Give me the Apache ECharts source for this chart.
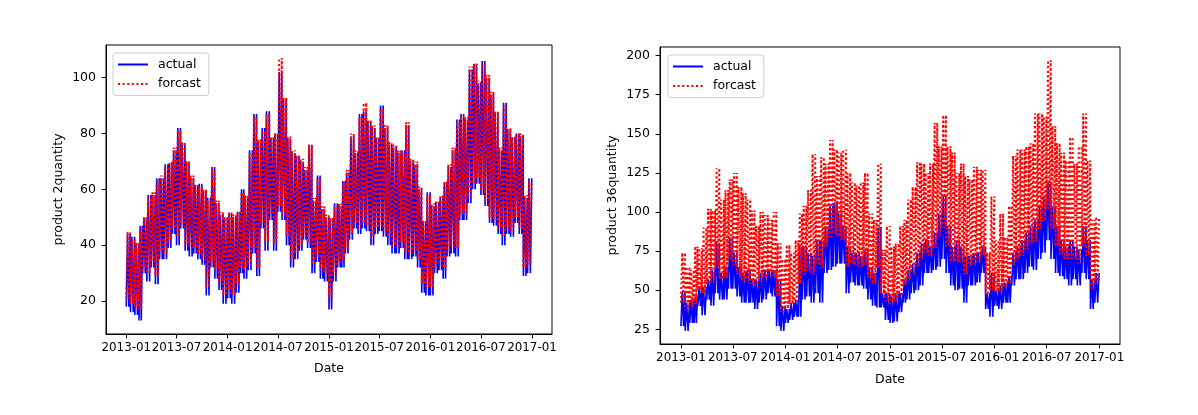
<!DOCTYPE html>
<html>
<head>
<meta charset="utf-8">
<script src="https://cdn.jsdelivr.net/npm/echarts@6/dist/echarts.min.js"></script>
<style>html,body{margin:0;padding:0;background:#fff}#c{width:1198px;height:415px}</style>
</head>
<body>
<div id="c"></div>
<script>
// Half-month envelopes (Jan 1-15, Jan 16-31, ... 2013-01 .. 2016-12)
const p2ActualHi = [44,43,40,47,50,58,58,64,64,69,69,74, 82,76,70,64,61,62,59,57,68,55,51,50,
  51,50,52,60,57,74,87,77,82,88,78,80, 102,92,78,73,72,70,67,76,56,65,53,50,
  49,55,54,63,66,79,73,87,88,84,82,78, 90,82,76,75,73,74,83,70,69,60,48,59,
  54,55,57,62,68,74,85,87,85,103,105,98, 106,100,94,87,74,91,81,78,80,79,57,64];
const p2ActualLo = [18,16,15,13,30,27,32,26,35,35,39,44, 40,46,38,36,37,35,33,22,32,28,24,19,
  21,19,23,30,28,31,37,29,46,38,49,38, 52,49,40,32,35,38,42,39,30,34,28,27,
  17,27,32,32,37,42,46,44,46,45,40,44, 45,43,40,37,37,39,35,35,36,32,23,22,
  22,30,31,28,36,37,36,49,49,55,60,62, 58,54,48,47,44,40,44,43,48,44,29,30];
const p2ForecastHi = [45,42,41,46,50,57,59,63,65,68,70,75, 81,77,70,65,62,61,60,56,67,56,52,50,
  52,51,52,59,58,73,86,78,81,87,79,80, 107,93,79,74,72,71,68,76,57,64,54,51,
  50,54,55,62,67,80,74,86,91,85,83,79, 89,83,77,76,74,73,84,71,70,61,49,58,
  55,56,58,63,69,75,84,86,86,104,105,99, 105,101,95,88,75,90,82,79,80,80,58,63];
const p2ForecastLo = [21,19,18,17,32,30,34,29,37,37,41,46, 43,48,40,39,39,37,35,25,34,31,27,22,
  24,22,26,32,31,33,39,32,48,41,51,41, 54,51,43,35,37,40,44,41,33,36,31,30,
  21,30,34,35,39,44,48,46,48,47,43,46, 47,45,43,40,39,41,38,37,38,35,26,25,
  25,32,34,31,38,40,39,51,51,57,62,64, 60,56,50,49,46,43,46,45,50,46,32,33];

const p36ActualHi = [49,42,44,46,52,52,57,63,80,61,65,84, 74,65,61,63,57,57,61,63,63,63,57,40,
  38,42,44,78,78,74,72,82,82,91,104,106, 99,91,78,74,74,72,76,65,61,90,48,48,
  46,48,48,57,63,67,74,80,82,78,87,99, 110,91,78,82,78,72,72,74,74,78,48,61,
  50,53,55,59,74,78,82,87,91,95,104,110, 119,104,91,82,78,82,78,76,91,82,57,61];
const p36ActualLo = [27,24,29,29,40,34,44,40,48,44,44,51, 51,46,42,42,42,38,42,44,48,46,27,24,
  29,31,33,33,44,46,42,48,42,61,63,65, 67,67,48,55,53,53,51,44,40,39,39,31,
  29,30,36,42,44,48,50,53,61,61,63,65, 70,61,53,50,51,42,53,53,55,61,38,33,
  40,38,42,42,53,57,57,61,65,63,70,74, 82,70,61,59,57,53,57,53,61,57,38,42];
const p36ForecastHi = [74,65,63,78,77,90,102,101,128,108,114,121, 125,116,112,108,101,91,100,98,95,100,80,70,
  79,74,82,99,104,114,137,123,135,131,146,140, 138,140,125,119,117,119,125,99,95,131,76,91,
  78,80,91,95,108,116,132,131,125,131,157,142, 162,142,138,125,131,123,121,129,127,127,74,110,
  82,99,84,104,136,140,140,142,144,163,163,161, 197,155,144,138,133,148,131,142,163,133,95,97];
const p36ForecastLo = [42,37,40,41,50,48,54,55,64,57,58,69, 66,60,56,57,54,52,56,58,60,59,46,36,
  38,41,43,54,60,62,60,67,64,78,84,86, 84,82,65,67,66,65,66,58,54,64,48,43,
  41,43,46,53,57,61,65,70,74,72,77,84, 90,78,68,68,67,60,66,67,68,72,47,50,
  49,49,52,54,66,70,72,76,80,81,89,94, 102,89,78,73,70,70,70,67,78,72,51,54];

const xTickLabels = ['2013-01','2013-07','2014-01','2014-07','2015-01','2015-07','2016-01','2016-07','2017-01'];
const p2YTicks = [20,40,60,80,100];
const p36YTicks = [25,50,75,100,125,150,175,200];

const DAY = 86400000;
function halfStart(k){ return Date.UTC(2013 + Math.floor(k/24), Math.floor((k%24)/2), (k%2) ? 16 : 1); }
// each half-month: weekly swings between its low and high
function build(lo, hi){
  const out = [];
  const N = 4;
  for (let k = 0; k < lo.length; k++){
    const s = halfStart(k), e = halfStart(k+1) - DAY;
    for (let j = 0; j < N; j++){
      out.push([s + j*(e - s)/(N-1), (j % 2) ? hi[k] : lo[k]]);
    }
  }
  return out;
}
const xTickVals = xTickLabels.map(l => Date.UTC(+l.slice(0,4), +l.slice(5,7)-1, 1));
const t0 = Date.UTC(2013,0,1), t1 = Date.UTC(2016,11,31), span = t1 - t0;
const xMin = t0 - 0.05*span, xMax = t1 + 0.05*span;

const FONT = 'DejaVu Sans';
const FS = 12.5;
function xAxis(gi, gap){
  return {type:'value', gridIndex:gi, min:xMin, max:xMax,
    axisLine:{show:true, lineStyle:{color:'#000', width:1}},
    axisTick:{show:true, length:4.4, inside:false, lineStyle:{color:'#000'}, customValues:xTickVals},
    axisLabel:{customValues:xTickVals, hideOverlap:false, showMinLabel:true, showMaxLabel:true, margin:8,
      color:'#000', fontFamily:FONT, fontSize:11.9,
      formatter: v => { const i = xTickVals.findIndex(t => Math.abs(t - v) < DAY); return i >= 0 ? xTickLabels[i] : ''; }},
    splitLine:{show:false},
    name:'Date', nameLocation:'middle', nameGap:gap,
    nameTextStyle:{color:'#000', fontFamily:FONT, fontSize:FS}};
}
function yAxis(gi, min, max, ticks, name){
  return {type:'value', gridIndex:gi, min:min, max:max,
    axisLine:{show:true, lineStyle:{color:'#000', width:1}},
    axisTick:{show:true, length:4.4, inside:false, lineStyle:{color:'#000'}, customValues:ticks},
    axisLabel:{customValues:ticks, showMinLabel:true, showMaxLabel:true, margin:10, color:'#000', fontFamily:FONT, fontSize:FS},
    splitLine:{show:false},
    name:name, nameLocation:'middle', nameGap:41, nameRotate:90,
    nameTextStyle:{color:'#000', fontFamily:FONT, fontSize:FS}};
}
function legend(left, top){
  return {left:left, top:top, orient:'vertical', data:['actual','forcast'],
    itemWidth:30, itemHeight:14, itemGap:6.5, padding:[5,8,5,4],
    itemStyle:{color:'rgba(0,0,0,0)', borderWidth:0, opacity:0},
    backgroundColor:'rgba(255,255,255,0.8)', borderColor:'#cccccc', borderWidth:1, borderRadius:3,
    textStyle:{color:'#000', fontFamily:FONT, fontSize:FS, padding:[0,0,0,5]}};
}
function series(name, gi, data, color, dotted, z){
  return {name:name, type:'line', xAxisIndex:gi, yAxisIndex:gi, data:data,
    symbol:'none', showSymbol:false, z:z, silent:true,
    itemStyle:{color:color},
    lineStyle: dotted ? {color:color, width:2, type:[2,2.6]} : {color:color, width:1.6}};
}

const chart = echarts.init(document.getElementById('c'), null, {renderer:'canvas'});
chart.setOption({
  animation:false,
  backgroundColor:'#fff',
  grid:[
    {left:106, top:45, width:446, height:289, show:true, borderColor:'#000', borderWidth:1, containLabel:false},
    {left:660, top:47, width:460, height:297, show:true, borderColor:'#000', borderWidth:1, containLabel:false}
  ],
  xAxis:[xAxis(0, 28), xAxis(1, 29)],
  yAxis:[yAxis(0, 8.2, 111.7, p2YTicks, 'product 2quantity'), yAxis(1, 15.6, 205.5, p36YTicks, 'product 36quantity')],
  legend:[legend(113, 53), legend(668, 55)],
  series:[
    series('actual', 0, build(p2ActualLo, p2ActualHi), '#0000ff', false, 2),
    series('forcast', 0, build(p2ForecastLo, p2ForecastHi), '#ff0000', true, 3),
    series('actual', 1, build(p36ActualLo, p36ActualHi), '#0000ff', false, 2),
    series('forcast', 1, build(p36ForecastLo, p36ForecastHi), '#ff0000', true, 3)
  ]
});
</script>
</body>
</html>
